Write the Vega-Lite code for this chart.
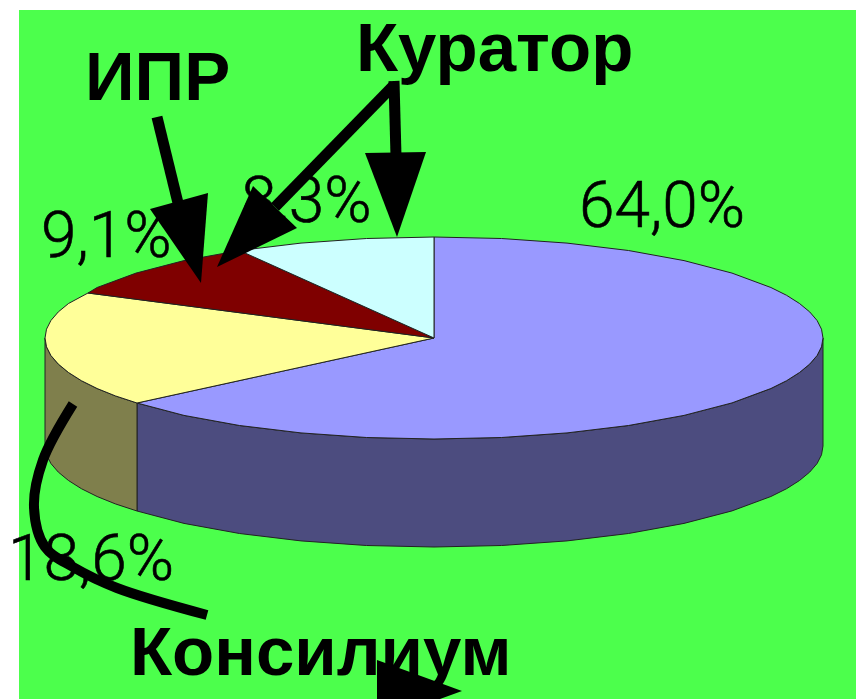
{"$schema":"https://vega.github.io/schema/vega-lite/v6.json","width":856,"height":699,"padding":0,"autosize":{"type":"fit","contains":"padding"},"background":"#ffffff","config":{"view":{"stroke":null}},
"datasets":{
"panel":[{"x":19,"x2":856,"y":10,"y2":699}],
"pie":[
{"part":"side64","i":0,"x":137,"y":403},{"part":"side64","i":1,"x":184,"y":415.4},{"part":"side64","i":2,"x":239.5,"y":425.5},{"part":"side64","i":3,"x":301,"y":432.9},{"part":"side64","i":4,"x":366.5,"y":437.5},{"part":"side64","i":5,"x":434,"y":439},{"part":"side64","i":6,"x":501.5,"y":437.5},{"part":"side64","i":7,"x":567,"y":432.9},{"part":"side64","i":8,"x":628.5,"y":425.5},{"part":"side64","i":9,"x":684,"y":415.4},{"part":"side64","i":10,"x":732,"y":402.9},{"part":"side64","i":11,"x":770.9,"y":388.5},{"part":"side64","i":12,"x":786.6,"y":380.7},{"part":"side64","i":13,"x":799.5,"y":372.5},{"part":"side64","i":14,"x":809.7,"y":364.1},{"part":"side64","i":15,"x":817.1,"y":355.5},{"part":"side64","i":16,"x":821.5,"y":346.8},{"part":"side64","i":17,"x":823,"y":338},{"part":"side64","i":18,"x":823,"y":446},{"part":"side64","i":19,"x":821.5,"y":454.8},{"part":"side64","i":20,"x":817.1,"y":463.5},{"part":"side64","i":21,"x":809.7,"y":472.1},{"part":"side64","i":22,"x":799.5,"y":480.5},{"part":"side64","i":23,"x":786.6,"y":488.7},{"part":"side64","i":24,"x":770.9,"y":496.5},{"part":"side64","i":25,"x":732,"y":510.9},{"part":"side64","i":26,"x":684,"y":523.4},{"part":"side64","i":27,"x":628.5,"y":533.5},{"part":"side64","i":28,"x":567,"y":540.9},{"part":"side64","i":29,"x":501.5,"y":545.5},{"part":"side64","i":30,"x":434,"y":547},{"part":"side64","i":31,"x":366.5,"y":545.5},{"part":"side64","i":32,"x":301,"y":540.9},{"part":"side64","i":33,"x":239.5,"y":533.5},{"part":"side64","i":34,"x":184,"y":523.4},{"part":"side64","i":35,"x":137,"y":511},
{"part":"side18","i":0,"x":45,"y":338},{"part":"side18","i":1,"x":46.5,"y":346.8},{"part":"side18","i":2,"x":50.9,"y":355.5},{"part":"side18","i":3,"x":58.3,"y":364.1},{"part":"side18","i":4,"x":68.5,"y":372.5},{"part":"side18","i":5,"x":81.4,"y":380.7},{"part":"side18","i":6,"x":97.1,"y":388.5},{"part":"side18","i":7,"x":115.4,"y":395.9},{"part":"side18","i":8,"x":137,"y":403},{"part":"side18","i":9,"x":137,"y":511},{"part":"side18","i":10,"x":115.4,"y":503.9},{"part":"side18","i":11,"x":97.1,"y":496.5},{"part":"side18","i":12,"x":81.4,"y":488.7},{"part":"side18","i":13,"x":68.5,"y":480.5},{"part":"side18","i":14,"x":58.3,"y":472.1},{"part":"side18","i":15,"x":50.9,"y":463.5},{"part":"side18","i":16,"x":46.5,"y":454.8},{"part":"side18","i":17,"x":45,"y":446},
{"part":"64,0%","i":0,"x":434,"y":338},{"part":"64,0%","i":1,"x":434,"y":237},{"part":"64,0%","i":2,"x":501.5,"y":238.5},{"part":"64,0%","i":3,"x":567,"y":243.1},{"part":"64,0%","i":4,"x":628.5,"y":250.5},{"part":"64,0%","i":5,"x":684,"y":260.6},{"part":"64,0%","i":6,"x":732,"y":273.1},{"part":"64,0%","i":7,"x":770.9,"y":287.5},{"part":"64,0%","i":8,"x":786.6,"y":295.3},{"part":"64,0%","i":9,"x":799.5,"y":303.5},{"part":"64,0%","i":10,"x":809.7,"y":311.9},{"part":"64,0%","i":11,"x":817.1,"y":320.5},{"part":"64,0%","i":12,"x":821.5,"y":329.2},{"part":"64,0%","i":13,"x":823,"y":338},{"part":"64,0%","i":14,"x":821.5,"y":346.8},{"part":"64,0%","i":15,"x":817.1,"y":355.5},{"part":"64,0%","i":16,"x":809.7,"y":364.1},{"part":"64,0%","i":17,"x":799.5,"y":372.5},{"part":"64,0%","i":18,"x":786.6,"y":380.7},{"part":"64,0%","i":19,"x":770.9,"y":388.5},{"part":"64,0%","i":20,"x":732,"y":402.9},{"part":"64,0%","i":21,"x":684,"y":415.4},{"part":"64,0%","i":22,"x":628.5,"y":425.5},{"part":"64,0%","i":23,"x":567,"y":432.9},{"part":"64,0%","i":24,"x":501.5,"y":437.5},{"part":"64,0%","i":25,"x":434,"y":439},{"part":"64,0%","i":26,"x":366.5,"y":437.5},{"part":"64,0%","i":27,"x":301,"y":432.9},{"part":"64,0%","i":28,"x":239.5,"y":425.5},{"part":"64,0%","i":29,"x":184,"y":415.4},{"part":"64,0%","i":30,"x":137,"y":403},
{"part":"18,6%","i":0,"x":434,"y":338},{"part":"18,6%","i":1,"x":137,"y":403},{"part":"18,6%","i":2,"x":115.4,"y":395.9},{"part":"18,6%","i":3,"x":97.1,"y":388.5},{"part":"18,6%","i":4,"x":81.4,"y":380.7},{"part":"18,6%","i":5,"x":68.5,"y":372.5},{"part":"18,6%","i":6,"x":58.3,"y":364.1},{"part":"18,6%","i":7,"x":50.9,"y":355.5},{"part":"18,6%","i":8,"x":46.5,"y":346.8},{"part":"18,6%","i":9,"x":45,"y":338},{"part":"18,6%","i":10,"x":46.5,"y":329.2},{"part":"18,6%","i":11,"x":50.9,"y":320.5},{"part":"18,6%","i":12,"x":58.3,"y":311.9},{"part":"18,6%","i":13,"x":68.5,"y":303.5},{"part":"18,6%","i":14,"x":88,"y":293},
{"part":"9,1%","i":0,"x":434,"y":338},{"part":"9,1%","i":1,"x":88,"y":293},{"part":"9,1%","i":2,"x":97.1,"y":287.5},{"part":"9,1%","i":3,"x":136,"y":273.1},{"part":"9,1%","i":4,"x":184,"y":260.6},{"part":"9,1%","i":5,"x":239.5,"y":250.5},
{"part":"8,3%","i":0,"x":434,"y":338},{"part":"8,3%","i":1,"x":239.5,"y":250.5},{"part":"8,3%","i":2,"x":301,"y":243.1},{"part":"8,3%","i":3,"x":366.5,"y":238.5},{"part":"8,3%","i":4,"x":434,"y":237}
],
"percents":[{"t":"64,0%","x":579,"y":227},{"t":"18,6%","x":8,"y":580},{"t":"9,1%","x":41,"y":257},{"t":"8,3%","x":241,"y":222}],
"names":[{"t":"ИПР","x":85,"y":100},{"t":"Куратор","x":356,"y":71},{"t":"Консилиум","x":130,"y":675}],
"shafts":[{"a":"ИПР","i":0,"x":157,"y":117},{"a":"ИПР","i":1,"x":178,"y":203},{"a":"К1","i":0,"x":394,"y":85},{"a":"К1","i":1,"x":275,"y":207},{"a":"К2","i":0,"x":394,"y":81},{"a":"К2","i":1,"x":396,"y":156}],
"curve":[{"i":0,"x":73,"y":404},{"i":1,"x":43,"y":460},{"i":2,"x":34,"y":507},{"i":3,"x":45,"y":547},{"i":4,"x":73,"y":567},{"i":5,"x":117,"y":588},{"i":6,"x":207,"y":615}],
"heads":[{"a":"ИПР","i":0,"x":150,"y":209},{"a":"ИПР","i":1,"x":208,"y":193},{"a":"ИПР","i":2,"x":201,"y":283},{"a":"К1","i":0,"x":253,"y":186},{"a":"К1","i":1,"x":297,"y":228},{"a":"К1","i":2,"x":217,"y":267},{"a":"К2","i":0,"x":365,"y":153},{"a":"К2","i":1,"x":426,"y":152},{"a":"К2","i":2,"x":397,"y":237},{"a":"Консилиум","i":0,"x":377,"y":660},{"a":"Консилиум","i":1,"x":462,"y":691},{"a":"Консилиум","i":2,"x":440,"y":699},{"a":"Консилиум","i":3,"x":377,"y":699}]
},
"encoding":{
"x":{"field":"x","type":"quantitative","scale":{"domain":[0,856],"nice":false,"zero":false},"axis":null},
"y":{"field":"y","type":"quantitative","scale":{"domain":[0,699],"reverse":true,"nice":false,"zero":false},"axis":null}
},
"layer":[
{"data":{"name":"panel"},"mark":{"type":"rect","fill":"#4CFF4C"},"encoding":{"x2":{"field":"x2"},"y2":{"field":"y2"}}},
{"data":{"name":"pie"},"mark":{"type":"line","stroke":"#222222","strokeWidth":1,"interpolate":"linear-closed"},"encoding":{"order":{"field":"i"},"detail":{"field":"part"},"fill":{"field":"part","type":"nominal","legend":null,"scale":{"domain":["side64","side18","64,0%","18,6%","9,1%","8,3%"],"range":["#4C4C7F","#7F7F4C","#9999FF","#FFFF99","#7F0000","#CCFFFF"]},"sort":null}}},
{"data":{"name":"shafts"},"mark":{"type":"line","stroke":"#000000","strokeWidth":11},"encoding":{"order":{"field":"i"},"detail":{"field":"a"}}},
{"data":{"name":"percents"},"mark":{"type":"text","font":"Roboto","fontWeight":300,"fontSize":64,"align":"left","baseline":"alphabetic","color":"#000000","stroke":"#000000","strokeWidth":0.6},"encoding":{"text":{"field":"t"}}},
{"data":{"name":"curve"},"mark":{"type":"line","stroke":"#000000","strokeWidth":10,"interpolate":"catmull-rom"},"encoding":{"order":{"field":"i"}}},
{"data":{"name":"heads"},"mark":{"type":"line","fill":"#000000","stroke":null,"interpolate":"linear-closed"},"encoding":{"order":{"field":"i"},"detail":{"field":"a"}}},
{"data":{"name":"names"},"mark":{"type":"text","font":"Liberation Sans","fontWeight":"bold","fontSize":69,"align":"left","baseline":"alphabetic","color":"#000000"},"encoding":{"text":{"field":"t"}}}
]}
